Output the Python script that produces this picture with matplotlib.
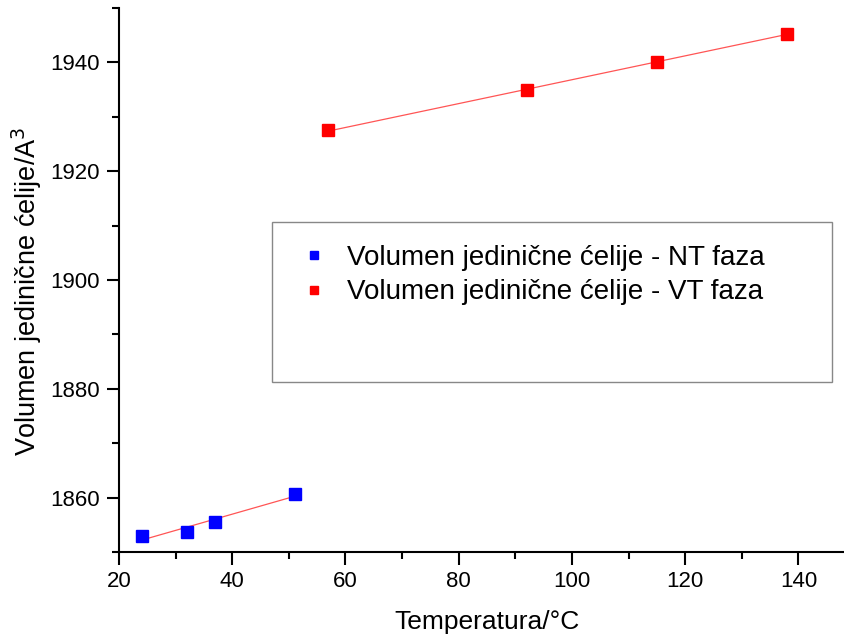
import numpy as np
import matplotlib
matplotlib.use('Agg')
from matplotlib import pyplot as plt
from matplotlib.ticker import MultipleLocator
from matplotlib.patches import Rectangle

plt.rcParams['font.family'] = ['Liberation Sans', 'DejaVu Sans']

# data
t_nt = [24, 32, 37, 51]
v_nt = [1853.0, 1853.75, 1855.6, 1860.7]
t_vt = [57, 92, 115, 138]
v_vt = [1927.5, 1934.9, 1940.0, 1945.3]

lbl_nt = 'Volumen jedinične ćelije - NT faza'
lbl_vt = 'Volumen jedinične ćelije - VT faza'

fig = plt.figure(figsize=(8.45, 6.36), dpi=100)
ax = fig.add_axes([119/845, 84/636, 736/845, 544/636])

# linear fits
for t, v in [(t_nt, v_nt), (t_vt, v_vt)]:
    k, n = np.polyfit(t, v, 1)
    xx = np.array([min(t), max(t)])
    ax.plot(xx, k*xx + n, color='#ff5555', lw=0.9, zorder=2)

ax.plot(t_nt, v_nt, 's', color='#0000ff', ms=8.5, label=lbl_nt, zorder=3)
ax.plot(t_vt, v_vt, 's', color='#ff0000', ms=8.5, label=lbl_vt, zorder=3)

ax.set_xlim(20, 150)
ax.set_ylim(1850, 1950)
ax.xaxis.set_major_locator(MultipleLocator(20))
ax.xaxis.set_minor_locator(MultipleLocator(10))
ax.yaxis.set_major_locator(MultipleLocator(20))
ax.yaxis.set_minor_locator(MultipleLocator(10))
for s in ['top', 'right']:
    ax.spines[s].set_visible(False)
for s in ['left', 'bottom']:
    ax.spines[s].set_linewidth(1.5)
ax.tick_params(which='major', direction='out', length=9, width=1.5, labelsize=16, pad=5)
ax.tick_params(which='minor', direction='out', length=5, width=1.5)

ax.set_xlabel('Temperatura/°C', fontsize=19)
ax.xaxis.set_label_coords(0.5, -(610 - 552)/544)
ax.set_ylabel('Volumen jedinične ćelije/A$^3$', fontsize=19.5)
ax.yaxis.set_label_coords(-(119 - 44)/736, (552 - 291)/544)

# legend frame drawn separately (taller than its entries)
ax.add_patch(Rectangle((272/845, 1 - 382/636), 560/845, 160/636,
                       transform=fig.transFigure, facecolor='white',
                       edgecolor='#888888', lw=1.0, zorder=5, clip_on=False))
leg = ax.legend(loc='upper left', fontsize=20, frameon=False,
                handlelength=1.0, handletextpad=0.68, markerscale=0.7,
                borderpad=0, labelspacing=0.3, borderaxespad=0)
leg.set_bbox_to_anchor((300/845, 1 - 245/636), transform=fig.transFigure)
leg.set_zorder(6)

fig.savefig('out.png', dpi=100)
